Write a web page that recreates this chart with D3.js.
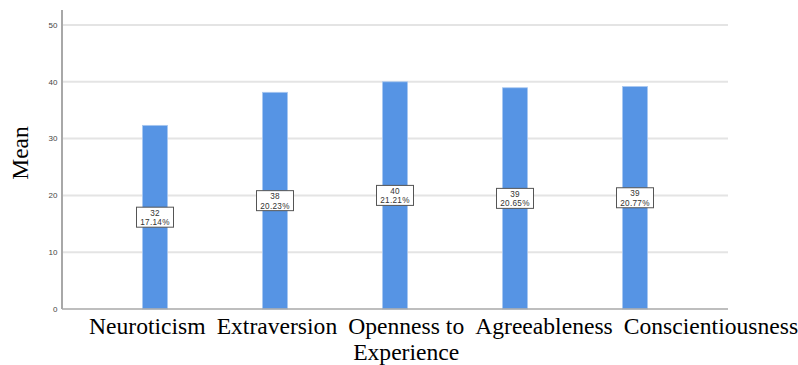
<!DOCTYPE html>
<html>
<head>
<meta charset="utf-8">
<script src="https://cdn.jsdelivr.net/npm/d3@7"></script>
<style>
  html, body { margin: 0; padding: 0; background: #fff; }
  svg { display: block; }
</style>
</head>
<body>
<svg id="chart" width="798" height="365"></svg>
<script>
// ---- data ----
const categories = ["Neuroticism", "Extraversion", "Openness to Experience", "Agreeableness", "Conscientiousness"];
const categoryLines = [["Neuroticism"], ["Extraversion"], ["Openness to", "Experience"], ["Agreeableness"], ["Conscientiousness"]];
const means = [32.33, 38.15, 40.0, 38.95, 39.17];
const percentLabels = ["17.14%", "20.23%", "21.21%", "20.65%", "20.77%"];
const yTicks = [0, 10, 20, 30, 40, 50];
const yTitle = "Mean";

// ---- layout ----
const svg = d3.select("#chart");
const plot = { left: 62, right: 728, top: 25, bottom: 309 };

const y = d3.scaleLinear().domain([0, 50]).range([plot.bottom, plot.top]);
const x = d3.scalePoint().domain(categories).range([95, 695]).padding(0.5);
const barW = 25;

// gridlines
svg.append("g").selectAll("line")
  .data(yTicks.filter(t => t > 0))
  .join("line")
  .attr("x1", plot.left).attr("x2", plot.right)
  .attr("y1", d => y(d)).attr("y2", d => y(d))
  .attr("stroke", "#e4e4e4").attr("stroke-width", 2);

// y tick labels
svg.append("g").selectAll("text")
  .data(yTicks)
  .join("text")
  .attr("x", 57.5).attr("y", d => y(d))
  .attr("dy", "0.35em")
  .attr("text-anchor", "end")
  .attr("font-family", "Arial, 'Liberation Sans', sans-serif")
  .attr("font-size", 8)
  .attr("fill", "#444")
  .text(d => d);

// bars
const data = categories.map((c, i) => ({ c, v: means[i], p: percentLabels[i] }));
svg.append("g").selectAll("rect")
  .data(data)
  .join("rect")
  .attr("x", d => x(d.c) - barW / 2)
  .attr("width", barW)
  .attr("y", d => y(d.v))
  .attr("height", d => y(0) - y(d.v))
  .attr("fill", "#5694e4")
  .attr("stroke", "#a9c8f0")
  .attr("stroke-width", 0.8);

// axes lines
svg.append("line")
  .attr("x1", plot.left).attr("x2", plot.left)
  .attr("y1", 10).attr("y2", plot.bottom)
  .attr("stroke", "#a8a8a8").attr("stroke-width", 2);
svg.append("line")
  .attr("x1", plot.left).attr("x2", plot.right)
  .attr("y1", plot.bottom).attr("y2", plot.bottom)
  .attr("stroke", "#a8a8a8").attr("stroke-width", 1.6);

// value label boxes
const lbl = svg.append("g").selectAll("g")
  .data(data)
  .join("g")
  .attr("transform", d => `translate(${x(d.c)},${y(d.v / 2)})`);
lbl.append("rect")
  .attr("x", -18.5).attr("y", -10)
  .attr("width", 37).attr("height", 20)
  .attr("fill", "#fff")
  .attr("stroke", "#555").attr("stroke-width", 1);
lbl.append("text")
  .attr("text-anchor", "middle")
  .attr("font-family", "Arial, 'Liberation Sans', sans-serif")
  .attr("font-size", 8.2)
  .attr("letter-spacing", 0.3)
  .attr("fill", "#333")
  .selectAll("tspan")
  .data(d => [d3.format(".0f")(d.v), d.p])
  .join("tspan")
  .attr("x", 0)
  .attr("y", (d, i) => i === 0 ? -1.5 : 8)
  .text(d => d);

// y-axis title
svg.append("text")
  .attr("transform", "translate(28,153) rotate(-90)")
  .attr("text-anchor", "middle")
  .attr("font-family", "'Liberation Serif', 'Times New Roman', serif")
  .attr("font-size", 23.5)
  .attr("fill", "#000")
  .text(yTitle);

// category labels: flowed left to right like a text line
const labFont = 23.6;
let cursor = 89;
const gap = 11;
const baseY = 334;
const lineH = 26;
const labG = svg.append("g")
  .attr("font-family", "'Liberation Serif', 'Times New Roman', serif")
  .attr("font-size", labFont)
  .attr("fill", "#000");
categoryLines.forEach(lines => {
  const t = labG.append("text").attr("text-anchor", "middle");
  const spans = lines.map((ln, i) => t.append("tspan").attr("y", baseY + i * lineH).text(ln));
  const widths = spans.map(s => s.node().getComputedTextLength());
  const w = d3.max(widths);
  spans.forEach(s => s.attr("x", cursor + w / 2));
  cursor += w + gap;
});
</script>
</body>
</html>
